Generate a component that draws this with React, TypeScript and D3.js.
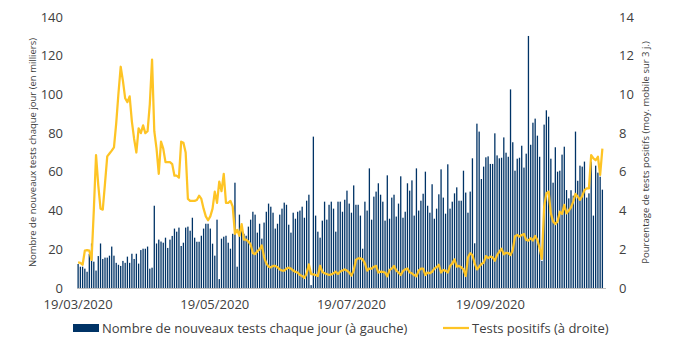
import React, { useEffect, useRef } from 'react';
import * as d3 from 'd3';

// daily new tests, thousands (left axis), from 19/03/2020
const startDate = new Date(2020, 2, 19);
const testsThousands = [
  12.4, 11, 11, 10, 8.4, 17.6, 23, 13.6, 9, 16.5, 23, 15, 15.7, 15.7, 16.7, 21.4, 16.7, 13, 12, 11.4,
  14, 13, 16.2, 13, 17.7, 15, 17.7, 12.6, 19.6, 20.3, 20.3, 21.4, 10, 10.5, 42.5, 23, 25, 24, 23.4,
  26, 20.7, 25, 26.9, 30.7, 29.1, 31.2, 21.7, 23.4, 31.2, 31.7, 29.6, 36.3, 26, 23.9, 23.9, 27, 30.7,
  33.2, 33.2, 30.7, 22.9, 16.7, 35.3, 4.6, 25.5, 26.5, 27, 23.4, 20.3, 28, 54.4, 11, 37.9, 30.7, 28,
  27, 31.7, 35.3,
  39.4, 37.9, 28.6, 33.2, 25.5, 33.8, 39.4, 43.6, 42, 38.9, 30.7, 33.2, 37.9, 41, 44.1, 43, 32.7, 28.6,
  38.9, 35.8, 39.4, 40, 42, 36.3, 45.1, 48.2, 1.5, 78.2, 37.4, 29.1, 26, 34.8, 44.6, 35.3, 43, 44.6,
  41, 29.1, 44.6, 44.6,
  39.4, 45.6, 50.3, 43.6, 38.9, 53, 43, 43, 37.4, 20.3, 44.6, 40, 61.8, 35.3, 47.2, 49.8, 54.1, 48.2,
  44.6, 34.8, 58.2, 35.8, 46.7, 48.2, 36.9, 43.6, 57.7, 36.3, 39.4, 54.1, 50.3, 55.6, 37.4, 61.8, 40,
  45.1, 48.7, 60.1, 42.5,
  38.9, 53.6, 35.8, 41, 48.4, 61.3, 46.7, 38.4, 63.9, 41, 44.6, 48.9, 52, 45.1, 45.1, 60.6, 49.3, 38.9,
  49.8, 67, 23.1, 84.9, 80.8, 56.3, 62.7, 67.5, 68, 64.1, 64.1, 79.9, 68.5, 67, 67.3, 77.8, 69.9, 67.8,
  102.6, 75.3, 60.6,
  66.8, 67.3, 73.5, 62.2, 69.4, 130.2, 74, 85.4, 87.5, 78.7, 67.8, 14, 84.4, 91.8, 88.5, 66.8, 54.4,
  72.7, 60.1, 60.6, 68.9, 73, 50.6, 46.3, 50.5, 47.7, 80.8, 55.4, 63.2, 62.7, 65.3, 46.7, 48.9, 65.3,
  37.4, 63.2, 59.6, 57.5, 50.8,
];

// positive tests %, 3-day moving average (right axis)
const positivePct = [
  1.32, 1.3, 1.2, 1.93, 1.96, 1.93, 1.45, 4.0, 6.87, 5.3, 4.1, 4.05, 5.4, 6.8, 6.95, 7.1, 7.27, 8.5,
  10.05, 11.43, 10.7, 9.8, 9.6, 9.9, 8.6, 7.7, 7.0, 8.25, 8.0, 8.4, 8.0, 8.1, 9.5, 11.8, 8.1, 7.2, 5.9,
  7.56, 7.2,
  6.5, 6.5, 6.5, 6.4, 5.8, 5.8, 5.7, 7.56, 7.5, 7.0, 4.6, 4.5, 4.5, 4.5, 4.55, 4.77, 4.6, 4.1, 3.7, 3.5,
  3.7, 4.1, 4.98, 4.4, 5.5, 5.0, 5.9, 4.4, 4.4, 4.5, 4.2, 2.8, 3.0, 2.7, 3.3, 2.5, 2.5, 2.4, 2.25,
  1.8, 1.75, 1.9, 2.0, 2.2, 1.6, 1.27, 1.1, 1.07, 1.14, 1.14, 1.07, 0.96, 0.9, 0.9, 1.0, 1.05, 1.0, 0.9,
  0.83, 0.8, 0.67, 0.62, 0.52, 0.76, 1.22, 0.72, 0.7, 0.67, 0.62, 1.15, 0.83, 0.76, 0.72, 0.67, 0.7,
  0.76, 0.84, 0.72, 0.85,
  0.9, 0.96, 0.9, 0.8, 0.64, 0.9, 1.45, 1.53, 1.53, 1.48, 1.27, 0.9, 1.0, 1.0, 1.1, 1.14, 0.8, 0.84,
  0.83, 0.8, 0.6, 0.93, 1.0, 1.14, 0.9, 0.8, 0.67, 0.88, 0.96, 1.0, 0.8, 0.76, 0.67, 0.6, 0.9, 1.0, 1.0,
  0.67, 0.8,
  0.76, 0.84, 1.0, 1.07, 1.2, 0.8, 0.93, 0.9, 0.8, 1.14, 1.27, 1.48, 1.1, 1.14, 1.07, 0.96, 0.62, 1.58,
  1.8, 1.7, 1.27, 0.96, 1.1, 1.24, 1.3, 1.65, 1.55, 1.62, 1.58, 1.41, 1.7, 1.88, 2.03, 1.74, 1.82, 1.8,
  1.7, 1.96, 2.67,
  2.74, 2.65, 2.74, 2.79, 2.48, 2.45, 2.57, 2.45, 2.69, 2.48, 2.05, 1.5, 4.2, 4.89, 4.98, 3.86, 3.43,
  3.3, 3.43, 3.94, 3.82, 4.29, 3.86, 4.0, 4.17, 4.46, 4.86, 4.72, 4.55, 4.75, 5.06, 5.15, 5.15, 6.87,
  6.7, 6.6, 6.78, 5.84, 7.2,
];

const xTickDates = ['19/03/2020', '19/05/2020', '19/07/2020', '19/09/2020'];
const leftTicks = [0, 20, 40, 60, 80, 100, 120, 140];
const rightTicks = [0, 2, 4, 6, 8, 10, 12, 14];

const leftTitle = 'Nombre de nouveaux tests chaque jour (en milliers)';
const rightTitle = 'Pourcentage de tests positifs (moy. mobile sur 3 j.)';
const barLegend = 'Nombre de nouveaux tests chaque jour (à gauche)';
const lineLegend = 'Tests positifs (à droite)';

const BAR = '#003366';
const LINE = '#fec425';
const TEXT = '#404040';
const FONT = '"Open Sans", "DejaVu Sans", sans-serif';

export default function App() {
  const ref = useRef<SVGSVGElement>(null);

  useEffect(() => {
    document.body.style.margin = '0';
    if (!ref.current) return;
    const W = 695, H = 352;
    const svg = d3.select(ref.current).attr('width', W).attr('height', H);
    svg.selectAll('*').remove();

    const fmt = d3.timeFormat('%d/%m/%Y');
    const parse = d3.timeParse('%d/%m/%Y');
    const days = testsThousands.map((_, i) => d3.timeDay.offset(startDate, i));
    const keys = days.map(fmt);

    const top = 17, bottom = 288;
    const x = d3.scaleBand<string>().domain(keys).range([77, 603.5]).paddingInner(0.42).paddingOuter(0.21);
    const yL = d3.scaleLinear().domain([0, 140]).range([bottom, top]);
    const yR = d3.scaleLinear().domain([0, 14]).range([bottom, top]);
    const cx = (k: string) => (x(k) as number) + x.bandwidth() / 2;

    // bars
    svg.append('g')
      .selectAll('rect')
      .data(testsThousands)
      .enter().append('rect')
      .attr('x', (d, i) => x(keys[i]) as number)
      .attr('width', x.bandwidth())
      .attr('y', d => yL(d))
      .attr('height', d => yL(0) - yL(d))
      .attr('fill', BAR);

    // x axis line
    svg.append('line')
      .attr('x1', 77).attr('x2', 606)
      .attr('y1', bottom + 0.5).attr('y2', bottom + 0.5)
      .attr('stroke', '#bfbfbf').attr('stroke-width', 1);

    // line
    const line = d3.line<number>()
      .x((d, i) => cx(keys[i]))
      .y(d => yR(d));
    svg.append('path')
      .datum(positivePct)
      .attr('d', line)
      .attr('fill', 'none')
      .attr('stroke', LINE)
      .attr('stroke-width', 2.25)
      .attr('stroke-linejoin', 'round');

    // left axis labels
    svg.append('g')
      .selectAll('text')
      .data(leftTicks)
      .enter().append('text')
      .attr('x', 63)
      .attr('y', d => yL(d))
      .attr('dy', '0.35em')
      .attr('text-anchor', 'end')
      .attr('font-family', FONT)
      .attr('font-size', 13)
      .attr('fill', TEXT)
      .text(d => d);

    // right axis labels
    svg.append('g')
      .selectAll('text')
      .data(rightTicks)
      .enter().append('text')
      .attr('x', 619)
      .attr('y', d => yR(d))
      .attr('dy', '0.35em')
      .attr('text-anchor', 'start')
      .attr('font-family', FONT)
      .attr('font-size', 13)
      .attr('fill', TEXT)
      .text(d => d);

    // x labels
    svg.append('g')
      .selectAll('text')
      .data(xTickDates)
      .enter().append('text')
      .attr('x', d => cx(fmt(parse(d) as Date)))
      .attr('y', 309)
      .attr('text-anchor', 'middle')
      .attr('font-family', FONT)
      .attr('font-size', 13)
      .attr('fill', TEXT)
      .text(d => d);

    // axis titles
    svg.append('text')
      .attr('transform', `translate(36,${(top + bottom) / 2}) rotate(-90)`)
      .attr('text-anchor', 'middle')
      .attr('font-family', FONT)
      .attr('font-size', 9.5)
      .attr('fill', TEXT)
      .text(leftTitle);

    svg.append('text')
      .attr('transform', `translate(649,${(top + bottom) / 2}) rotate(-90)`)
      .attr('text-anchor', 'middle')
      .attr('font-family', FONT)
      .attr('font-size', 9.5)
      .attr('fill', TEXT)
      .text(rightTitle);

    // legend
    const lg = svg.append('g').attr('font-family', FONT).attr('font-size', 13).attr('fill', TEXT);
    lg.append('rect').attr('x', 73).attr('y', 324).attr('width', 26).attr('height', 8).attr('fill', BAR);
    lg.append('text').attr('x', 102).attr('y', 333).text(barLegend);
    lg.append('line')
      .attr('x1', 443).attr('x2', 469).attr('y1', 328).attr('y2', 328)
      .attr('stroke', LINE).attr('stroke-width', 2.25);
    lg.append('text').attr('x', 472).attr('y', 333).text(lineLegend);
  }, []);

  return <svg ref={ref} style={{ display: 'block' }}></svg>;
}
